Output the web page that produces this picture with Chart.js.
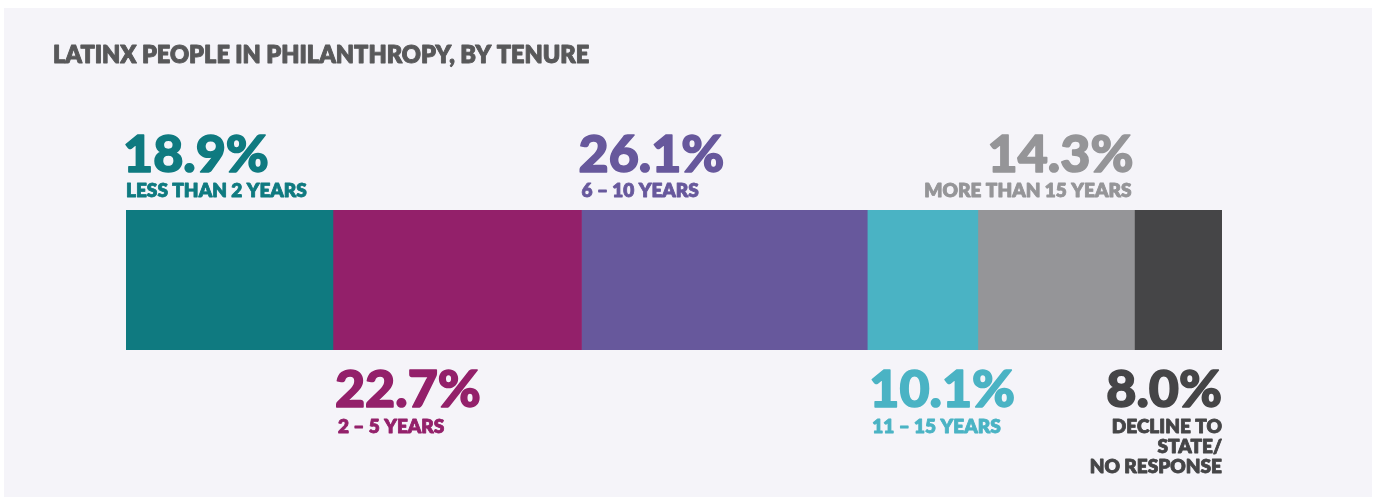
<!DOCTYPE html>
<html>
<head>
<meta charset="utf-8">
<script src="https://cdn.jsdelivr.net/npm/chart.js@4"></script>
<style>
  html, body { margin: 0; padding: 0; background: #ffffff; }
  canvas { display: block; }
</style>
</head>
<body>
<canvas id="c" width="1376" height="498"></canvas>
<script>
const title = 'LATINX PEOPLE IN PHILANTHROPY, BY TENURE';
const categories = ['LESS THAN 2 YEARS', '2 – 5 YEARS', '6 – 10 YEARS', '11 – 15 YEARS', 'MORE THAN 15 YEARS', 'DECLINE TO|STATE/|NO RESPONSE'];
const values = [18.9, 22.7, 26.1, 10.1, 14.3, 8.0];
const colors = ['#0f7a80', '#93206a', '#67589c', '#4ab3c4', '#959598', '#454547'];

// label placement: side and alignment relative to the segment
const placement = [
  { side: 'above', align: 'left' },
  { side: 'below', align: 'left' },
  { side: 'above', align: 'left' },
  { side: 'below', align: 'left' },
  { side: 'above', align: 'right' },
  { side: 'below', align: 'right' }
];

const total = values.reduce((a, b) => a + b, 0);
const FONT = 'Lato, "Open Sans", sans-serif';

function heavyText(ctx, txt, x, y, stroke) {
  ctx.lineWidth = stroke;
  ctx.lineJoin = 'round';
  ctx.strokeStyle = ctx.fillStyle;
  ctx.strokeText(txt, x, y);
  ctx.fillText(txt, x, y);
}

const panelPlugin = {
  id: 'panel',
  beforeDraw(chart) {
    const ctx = chart.ctx;
    ctx.save();
    ctx.fillStyle = '#f5f4f9';
    ctx.fillRect(4, 8, 1368, 489);
    ctx.fillStyle = '#58585a';
    ctx.font = '800 23.5px ' + FONT;
    ctx.textBaseline = 'alphabetic';
    ctx.textAlign = 'left';
    heavyText(ctx, title, 53, 63, 0.9);
    ctx.restore();
  }
};

const labelPlugin = {
  id: 'segLabels',
  afterDatasetsDraw(chart) {
    const ctx = chart.ctx;
    ctx.save();
    chart.data.datasets.forEach((ds, i) => {
      const bar = chart.getDatasetMeta(i).data[0];
      const left = Math.min(bar.base, bar.x);
      const right = Math.max(bar.base, bar.x);
      const top = bar.y - bar.height / 2;
      const bottom = bar.y + bar.height / 2;
      const p = placement[i];
      ctx.fillStyle = colors[i];
      ctx.textAlign = p.align;
      ctx.textBaseline = 'alphabetic';
      const x = p.align === 'left' ? left : right;
      const pct = values[i].toFixed(1) + '%';
      const lines = categories[i].split('|');
      if (p.side === 'above') {
        ctx.font = '900 52px ' + FONT;
        heavyText(ctx, pct, x + (p.align === 'right' ? -1 : -3), top - 38, 1.6);
        ctx.font = '800 19px ' + FONT;
        heavyText(ctx, lines[0], x + (p.align === 'right' ? -3 : 0), top - 13, 0.8);
      } else {
        ctx.font = '900 52px ' + FONT;
        heavyText(ctx, pct, x + (p.align === 'left' ? 2 : 0), bottom + 57, 1.6);
        ctx.font = '800 19px ' + FONT;
        lines.forEach((ln, k) => {
          heavyText(ctx, ln, x + (p.align === 'left' ? 5 : 0), bottom + 83 + k * 20, 0.8);
        });
      }
    });
    ctx.restore();
  }
};

new Chart(document.getElementById('c'), {
  type: 'bar',
  data: {
    labels: ['Tenure'],
    datasets: values.map((v, i) => ({
      label: categories[i].replace(/\|/g, ' '),
      data: [v],
      backgroundColor: colors[i],
      borderWidth: 0,
      barPercentage: 1,
      categoryPercentage: 1
    }))
  },
  options: {
    indexAxis: 'y',
    responsive: false,
    animation: false,
    layout: { padding: { left: 126, right: 154, top: 210, bottom: 148 } },
    scales: {
      x: { stacked: true, min: 0, max: total, display: false },
      y: { stacked: true, display: false }
    },
    plugins: { legend: { display: false }, tooltip: { enabled: false } }
  },
  plugins: [panelPlugin, labelPlugin]
});
</script>
</body>
</html>
